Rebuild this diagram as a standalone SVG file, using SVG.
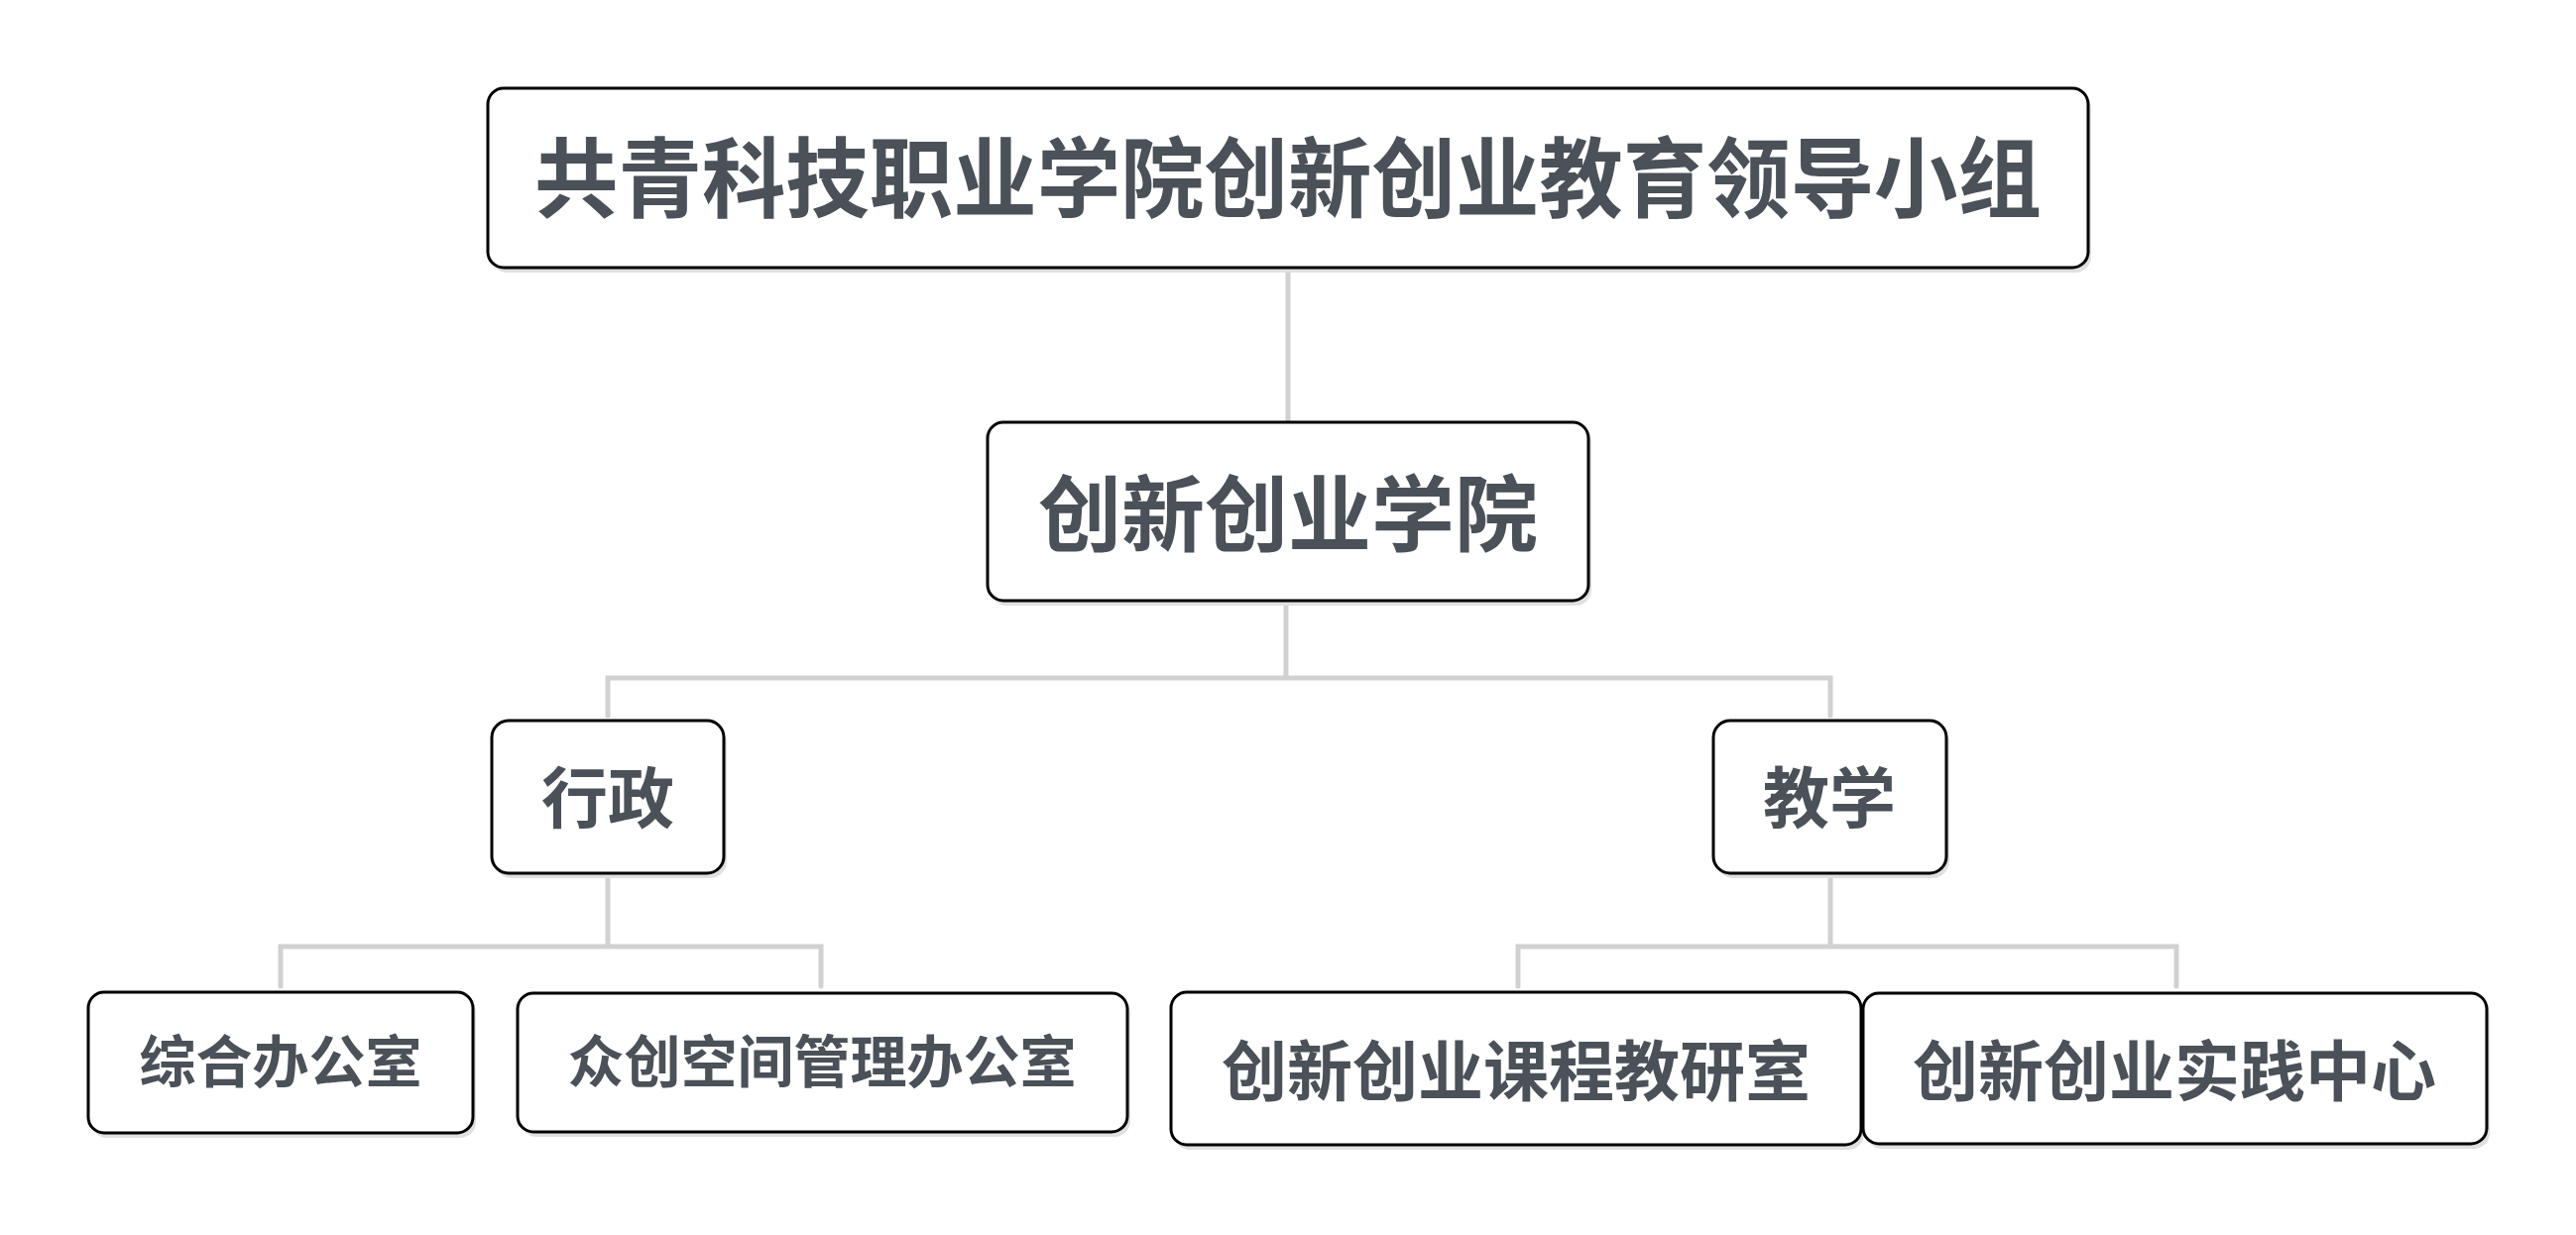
<svg xmlns="http://www.w3.org/2000/svg" width="2598" height="1246" viewBox="0 0 2598 1246">
<style>
.shadow{fill:#e0e0e0;stroke:none}
.box{fill:#ffffff;stroke:#000000;stroke-width:3}
.t{font-family:"Noto Sans CJK SC","Noto Sans",sans-serif;font-weight:700;fill:#4b5159;text-anchor:middle}
.conn{fill:none;stroke:#d0d1d0;stroke-width:5;stroke-linecap:round;stroke-linejoin:miter}
</style>
<rect width="2598" height="1246" fill="#ffffff"/>
<g id="connectors">
<path class="conn" d="M1299,270 V426"/>
<path class="conn" d="M1297,606 V684 M613,722 V684 H1846 V722"/>
<path class="conn" d="M613,881 V955 M283,995 V955 H828 V995"/>
<path class="conn" d="M1846,881 V955 M1531,995 V955 H2195 V995"/>
</g>
<g id="n1">
<rect class="shadow" x="495" y="94" width="1614" height="181" rx="16"/>
<rect class="box" x="492" y="89" width="1614" height="181" rx="16"/>
<text class="t" x="1299" y="212" font-size="88" textLength="1520" lengthAdjust="spacingAndGlyphs">共青科技职业学院创新创业教育领导小组</text>
</g>
<g id="n2">
<rect class="shadow" x="999" y="431" width="606" height="180" rx="16"/>
<rect class="box" x="996" y="426" width="606" height="180" rx="16"/>
<text class="t" x="1299" y="550" font-size="84">创新创业学院</text>
</g>
<g id="n3">
<rect class="shadow" x="499" y="732" width="234" height="154" rx="17"/>
<rect class="box" x="496" y="727" width="234" height="154" rx="17"/>
<text class="t" x="613" y="830" font-size="67">行政</text>
</g>
<g id="n4">
<rect class="shadow" x="1731" y="732" width="235" height="154" rx="17"/>
<rect class="box" x="1728" y="727" width="235" height="154" rx="17"/>
<text class="t" x="1845" y="830" font-size="67">教学</text>
</g>
<g id="n5">
<rect class="shadow" x="92" y="1006" width="388" height="142" rx="16"/>
<rect class="box" x="89" y="1001" width="388" height="142" rx="16"/>
<text class="t" x="283" y="1092" font-size="57">综合办公室</text>
</g>
<g id="n6">
<rect class="shadow" x="525" y="1007" width="615" height="140" rx="16"/>
<rect class="box" x="522" y="1002" width="615" height="140" rx="16"/>
<text class="t" x="829" y="1092" font-size="57">众创空间管理办公室</text>
</g>
<g id="n7">
<rect class="shadow" x="1184" y="1006" width="696" height="154" rx="16"/>
<rect class="box" x="1181" y="1001" width="696" height="154" rx="16"/>
<text class="t" x="1529" y="1105" font-size="66">创新创业课程教研室</text>
</g>
<g id="n8">
<rect class="shadow" x="1882" y="1007" width="629" height="152" rx="16"/>
<rect class="box" x="1879" y="1002" width="629" height="152" rx="16"/>
<text class="t" x="2193" y="1105" font-size="66">创新创业实践中心</text>
</g>
</svg>
